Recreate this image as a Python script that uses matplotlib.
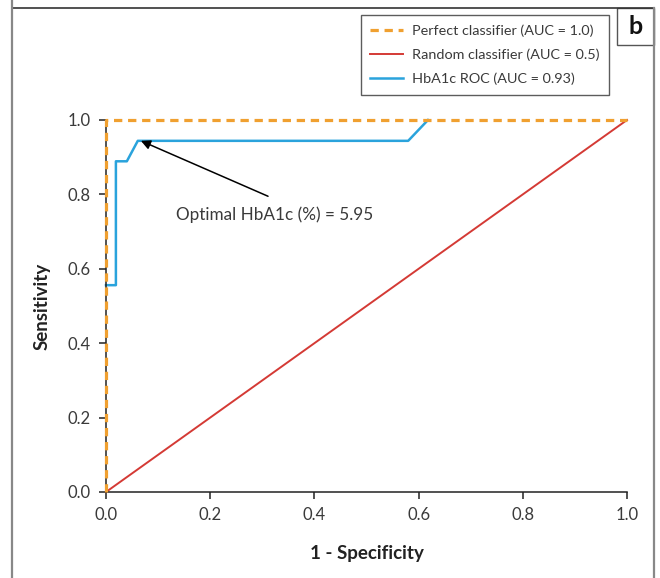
import numpy as np
import matplotlib.pyplot as plt
from matplotlib.lines import Line2D
from matplotlib.patches import Rectangle

plt.rcParams['font.family'] = ['Lato', 'DejaVu Sans']

# ROC data
perfect_x = [0.0, 0.0, 1.0]
perfect_y = [0.0, 1.0, 1.0]
random_x = [0.0, 1.0]
random_y = [0.0, 1.0]
roc_fpr = [0.0, 0.019, 0.019, 0.04, 0.061, 0.58, 0.618]
roc_tpr = [0.556, 0.556, 0.889, 0.889, 0.944, 0.944, 1.0]
optimal_point = (0.067, 0.944)
ticks = [0.0, 0.2, 0.4, 0.6, 0.8, 1.0]

fig = plt.figure(figsize=(6.6, 5.78), dpi=100)
ax = fig.add_axes([106/660, 1-492/578, 521/660, 372/578])

txt = '#3a3a3a'
ax.plot(perfect_x, perfect_y, color='#f0a030', ls=(0, (2.6, 1.8)), lw=2.3,
        label='Perfect classifier (AUC = 1.0)', clip_on=False, zorder=3)
ax.plot(random_x, random_y, color='#d43a35', lw=1.4,
        label='Random classifier (AUC = 0.5)', clip_on=False, zorder=2)
ax.plot(roc_fpr, roc_tpr, color='#2aa3dc', lw=1.8,
        label='HbA1c ROC (AUC = 0.93)', clip_on=False, zorder=2)

# label and arrow of the optimal cut-off
ax.text(0.134, 0.745, 'Optimal HbA1c (%) = 5.95', fontsize=12.3, color=txt,
        va='center', ha='left')
ax.annotate('', xy=optimal_point, xytext=(0.311, 0.795),
            arrowprops=dict(arrowstyle='-|>', color='black', lw=1.1, mutation_scale=14,
                            shrinkA=0, shrinkB=0))

ax.set_xlim(0, 1)
ax.set_ylim(0, 1)
ax.set_xticks(ticks)
ax.set_yticks(ticks)
ax.set_xticklabels([f'{t:.1f}' for t in ticks])
ax.set_yticklabels([f'{t:.1f}' for t in ticks])
ax.tick_params(direction='out', length=5, width=1.1, labelsize=12, labelcolor=txt,
               color='#222222', pad=6)
for s in ['top', 'right']:
    ax.spines[s].set_visible(False)
for s in ['left', 'bottom']:
    ax.spines[s].set_color('#222222')
    ax.spines[s].set_linewidth(1.1)

ax.set_xlabel('1 - Specificity', fontsize=13.5, fontweight='bold', color='#222222', labelpad=16)
ax.set_ylabel('Sensitivity', fontsize=13.5, fontweight='bold', color='#222222', labelpad=12)

leg = fig.legend(loc='upper right', bbox_to_anchor=(609/660, 1-15/578), fontsize=10.4,
                 frameon=True, fancybox=False, handlelength=2.3, labelspacing=0.8,
                 borderpad=0.65, handletextpad=0.6, labelcolor=txt, borderaxespad=0)
leg.get_frame().set_edgecolor('#333333')
leg.get_frame().set_linewidth(1.0)

# panel frame
W, H = 660, 578
fig.add_artist(Line2D([12/W, 654/W], [1-7.5/H, 1-7.5/H], color='#333333', lw=1.2))
fig.add_artist(Line2D([12/W, 12/W], [0, 1], color='#888888', lw=1.6))
fig.add_artist(Line2D([654/W, 654/W], [0, 1-7.5/H], color='#888888', lw=1.6))
fig.add_artist(Rectangle((617/W, 1-45/H), 37/W, 37.5/H, fill=False,
                         edgecolor='#555555', lw=1.0))
fig.text(635.5/W, 1-26/H, 'b', fontsize=18, fontweight='bold', ha='center', va='center',
         color='#111111')

fig.savefig('out.png', dpi=100)
